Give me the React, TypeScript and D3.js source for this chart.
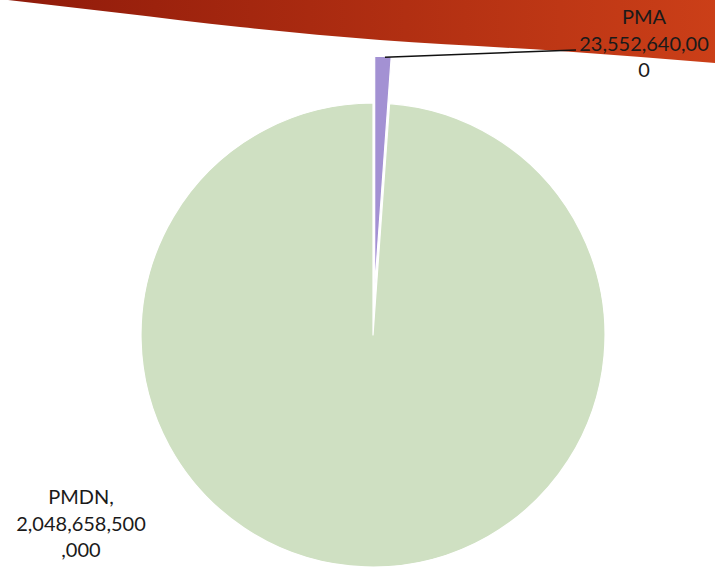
import React from "react";
import * as d3 from "d3";

const categories = ["PMA", "PMDN"];
const values = [23552640000, 2048658500000];
const labelLinesPMA = ["PMA", "23,552,640,00", "0"];
const labelLinesPMDN = ["PMDN,", "2,048,658,500", ",000"];
const colors = ["#a391d3", "#cfe0c2"];

const W = 715;
const H = 568;
const cx = 373;
const cy = 335;
const R = 232;
const explode = 47;

export default function App() {
  const pie = d3
    .pie<number>()
    .sort(null)
    .startAngle(0)
    .endAngle(2 * Math.PI)
    .value((d) => d);
  const arcs = pie(values);
  const arcGen = d3.arc<d3.PieArcDatum<number>>().innerRadius(0).outerRadius(R);

  const offsets = arcs.map((a, i) => {
    if (categories[i] !== "PMA") return [0, 0];
    const mid = (a.startAngle + a.endAngle) / 2;
    return [explode * Math.sin(mid), -explode * Math.cos(mid)];
  });

  const pmaIdx = categories.indexOf("PMA");
  const pa = arcs[pmaIdx];
  const pmid = (pa.startAngle + pa.endAngle) / 2;
  const lx0 = cx + offsets[pmaIdx][0] + R * Math.sin(pmid) + 2;
  const ly0 = cy + offsets[pmaIdx][1] - R * Math.cos(pmid) + 1;

  const edge = d3.line().curve(d3.curveMonotoneX)([
    [0, -1],
    [8, 0],
    [120, 13],
    [240, 27],
    [380, 40],
    [560, 51],
    [715, 63],
  ] as [number, number][]);
  const swoosh = `${edge} L715,-2 L0,-2 Z`;

  const font = "Lato, 'Open Sans', sans-serif";

  return (
    <svg width={W} height={H} style={{ position: "absolute", left: 0, top: 0 }}>
      <defs>
        <linearGradient id="sw" x1="0" x2="1" y1="0" y2="0">
          <stop offset="0" stopColor="#8f1a0a" />
          <stop offset="1" stopColor="#cb3f18" />
        </linearGradient>
      </defs>
      <rect width={W} height={H} fill="#ffffff" />
      <path d={swoosh} fill="url(#sw)" />
      <g>
        {arcs.map((a, i) => (
          <path
            key={categories[i]}
            d={arcGen(a) || ""}
            transform={`translate(${cx + offsets[i][0]},${cy + offsets[i][1]})`}
            fill={colors[i]}
            stroke="#ffffff"
            strokeWidth={1.2}
            strokeLinejoin="round"
          />
        ))}
      </g>
      <polyline
        points={`${lx0},${ly0} ${576},${50}`}
        fill="none"
        stroke="#111"
        strokeWidth={1.5}
      />
      <text fontFamily={font} fontSize={20} fill="#1a1a1a" textAnchor="middle">
        {labelLinesPMA.map((t, i) => (
          <tspan key={i} x={644} y={24 + i * 26.5}>
            {t}
          </tspan>
        ))}
      </text>
      <text fontFamily={font} fontSize={20} fill="#1a1a1a" textAnchor="middle">
        {labelLinesPMDN.map((t, i) => (
          <tspan key={i} x={81} y={504 + i * 26.5}>
            {t}
          </tspan>
        ))}
      </text>
    </svg>
  );
}
